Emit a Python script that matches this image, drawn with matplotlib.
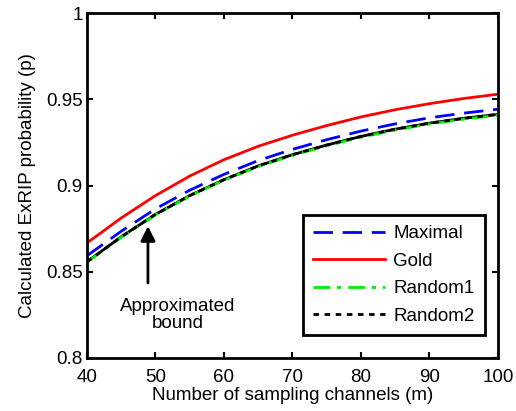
import numpy as np
import matplotlib.pyplot as plt

plt.rcParams['font.family'] = ['Liberation Sans', 'DejaVu Sans']

m = [40, 45, 50, 55, 60, 65, 70, 75, 80, 85, 90, 95, 100]
p_maximal = [0.8593, 0.8735, 0.8865, 0.8973, 0.9065, 0.9145, 0.9210, 0.9266, 0.9316, 0.9358, 0.9393, 0.9420, 0.9443]
p_gold = [0.8667, 0.8812, 0.8942, 0.9055, 0.9150, 0.9228, 0.9292, 0.9348, 0.9398, 0.9440, 0.9475, 0.9505, 0.9530]
p_random1 = [0.8555, 0.8700, 0.8830, 0.8939, 0.9031, 0.9110, 0.9175, 0.9231, 0.9280, 0.9322, 0.9357, 0.9385, 0.9408]
p_random2 = [0.8558, 0.8703, 0.8833, 0.8942, 0.9034, 0.9114, 0.9179, 0.9235, 0.9285, 0.9327, 0.9362, 0.9390, 0.9413]
p_bound = [0.8558, 0.8703, 0.8833, 0.8942, 0.9034, 0.9114, 0.9179, 0.9235, 0.9285, 0.9327, 0.9362, 0.9390, 0.9413]

fs = 13.5

fig = plt.figure(figsize=(5.16, 4.11), dpi=100)
ax = fig.add_axes([0.1686, 0.129, 0.7964, 0.839])

ax.plot(m, p_bound, '-', color='k', linewidth=2)
ax.plot(m, p_maximal, color='b', linewidth=2, dashes=(7, 3.5), label='Maximal')
ax.plot(m, p_gold, '-', color='r', linewidth=2, label='Gold')
ax.plot(m, p_random1, color='#00ee00', linewidth=2, dashes=(6, 2.5, 1.5, 2.5), label='Random1')
ax.plot(m, p_random2, color='k', linewidth=2, dashes=(2, 2), label='Random2')

# arrow and label
ax.annotate('', xy=(48.9, 0.8765), xytext=(48.9, 0.8435),
            arrowprops=dict(arrowstyle='-|>', color='k', lw=2, mutation_scale=22,
                            shrinkA=0, shrinkB=0))
ax.text(53.2, 0.825, 'Approximated\nbound', ha='center', va='center', fontsize=fs,
        linespacing=1.0)

ax.set_xlim(40, 100)
ax.set_ylim(0.8, 1.0)
ax.set_xticks([40, 50, 60, 70, 80, 90, 100])
ax.set_yticks([0.8, 0.85, 0.9, 0.95, 1.0])
ax.set_yticklabels(['0.8', '0.85', '0.9', '0.95', '1'])
ax.tick_params(direction='in', top=True, right=True, labelsize=fs, width=1.5, length=4, pad=3)
ax.tick_params(axis='x', pad=8)
for s in ax.spines.values():
    s.set_linewidth(2)

ax.set_xlabel('Number of sampling channels (m)', fontsize=fs, labelpad=1)
ax.set_ylabel('Calculated ExRIP probability (p)', fontsize=fs, labelpad=7)

leg = ax.legend(loc='lower right', bbox_to_anchor=(0.968, 0.067), fontsize=fs,
                fancybox=False, edgecolor='k', framealpha=1, handlelength=3.8,
                handletextpad=0.45, borderpad=0.55, labelspacing=0.55, borderaxespad=0)
leg.get_frame().set_linewidth(2)

plt.savefig('out.png')
